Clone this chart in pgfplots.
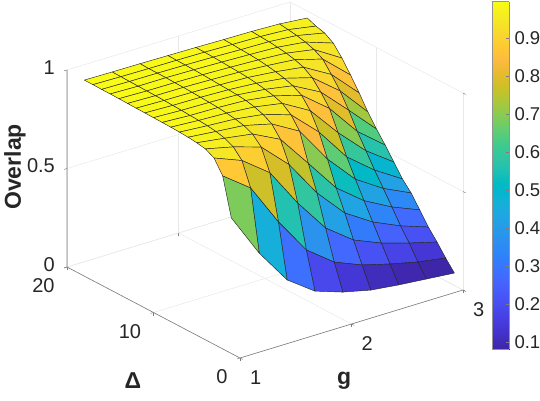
\documentclass[border=0pt]{standalone}
\usepackage{pgfplots}
\pgfplotsset{compat=1.18}
\usepackage{fontspec}
\setmainfont{Liberation Sans}
\definecolor{axgray}{gray}{0.15}
\pgfplotsset{colormap={parula}{
rgb=(0.2422,0.1504,0.6603) rgb=(0.2504,0.1650,0.7076) rgb=(0.2578,0.1818,0.7511) rgb=(0.2647,0.1978,0.7952)
rgb=(0.2706,0.2147,0.8364) rgb=(0.2751,0.2342,0.8710) rgb=(0.2783,0.2559,0.8991) rgb=(0.2803,0.2782,0.9221)
rgb=(0.2813,0.3006,0.9414) rgb=(0.2810,0.3228,0.9579) rgb=(0.2795,0.3447,0.9717) rgb=(0.2760,0.3667,0.9829)
rgb=(0.2699,0.3892,0.9906) rgb=(0.2602,0.4123,0.9952) rgb=(0.2440,0.4358,0.9988) rgb=(0.2206,0.4603,0.9973)
rgb=(0.1963,0.4847,0.9892) rgb=(0.1834,0.5074,0.9798) rgb=(0.1786,0.5289,0.9682) rgb=(0.1764,0.5499,0.9520)
rgb=(0.1687,0.5703,0.9359) rgb=(0.1540,0.5902,0.9218) rgb=(0.1460,0.6091,0.9079) rgb=(0.1380,0.6276,0.8973)
rgb=(0.1248,0.6459,0.8883) rgb=(0.1113,0.6635,0.8763) rgb=(0.0952,0.6798,0.8598) rgb=(0.0689,0.6948,0.8394)
rgb=(0.0297,0.7082,0.8163) rgb=(0.0036,0.7203,0.7917) rgb=(0.0067,0.7312,0.7660) rgb=(0.0433,0.7411,0.7394)
rgb=(0.0964,0.7500,0.7120) rgb=(0.1408,0.7584,0.6842) rgb=(0.1717,0.7670,0.6554) rgb=(0.1938,0.7758,0.6251)
rgb=(0.2161,0.7843,0.5923) rgb=(0.2470,0.7918,0.5567) rgb=(0.2906,0.7973,0.5188) rgb=(0.3406,0.8008,0.4789)
rgb=(0.3909,0.8029,0.4354) rgb=(0.4456,0.8024,0.3909) rgb=(0.5044,0.7993,0.3480) rgb=(0.5616,0.7942,0.3045)
rgb=(0.6174,0.7876,0.2612) rgb=(0.6720,0.7793,0.2227) rgb=(0.7242,0.7698,0.1910) rgb=(0.7738,0.7598,0.1646)
rgb=(0.8203,0.7498,0.1535) rgb=(0.8634,0.7406,0.1596) rgb=(0.9035,0.7330,0.1774) rgb=(0.9393,0.7288,0.2100)
rgb=(0.9728,0.7298,0.2394) rgb=(0.9956,0.7434,0.2371) rgb=(0.9970,0.7659,0.2199) rgb=(0.9952,0.7893,0.2028)
rgb=(0.9892,0.8136,0.1885) rgb=(0.9786,0.8386,0.1766) rgb=(0.9676,0.8639,0.1643) rgb=(0.9610,0.8890,0.1537)
rgb=(0.9597,0.9135,0.1423) rgb=(0.9628,0.9373,0.1265) rgb=(0.9691,0.9606,0.1064) rgb=(0.9769,0.9839,0.0805)
}}
\begin{document}
\begin{tikzpicture}[x=1pt,y=1pt]
\useasboundingbox (0,0) rectangle (540,400);
\begin{axis}[
    at={(240pt,42pt)}, anchor=origin,
    x={(111.5pt,34pt)}, y={(-8.65pt,4.55pt)}, z={(0pt,197pt)},
    xmin=1, xmax=3, ymin=0, ymax=20, zmin=0, zmax=1,
    clip=false,
    xtick={1,2,3}, ytick={0,10,20}, ztick={0,0.5,1},
    zticklabels={0,0.5,1},
    xtick pos=left, ytick pos=left, ztick pos=left,
    grid=major,
    grid style={line width=0.5pt, black!9},
    axis line style={draw=none},
    tick style={axgray!60, line width=0.5pt},
    major tick length=3pt,
    tick align=outside,
    colormap name=parula,
    point meta min=0.0816, point meta max=0.996,
    tick label style={font=\fontsize{20}{22}\selectfont, text=axgray},
    /pgf/number format/assume math mode=true,
    xticklabel style={anchor=center, xshift=13pt, yshift=-18pt},
    yticklabel style={anchor=east, xshift=-6pt, yshift=-18pt},
    zticklabel style={anchor=east, xshift=-6pt, yshift=1pt},
    xlabel={g}, ylabel={Δ},
    zlabel={Overlap},
    every axis x label/.style={at={(axis cs:1.375,-7.2,0)}, anchor=center, yshift=-3pt, font=\bfseries\fontsize{23}{25}\selectfont, text=axgray},
    every axis y label/.style={at={(axis cs:0.144,1.34,0)}, anchor=center, font=\bfseries\fontsize{23}{25}\selectfont, text=axgray},
    every axis z label/.style={at={(axis cs:0.534,20,0.578)}, anchor=center, rotate=90, xshift=2pt, font=\bfseries\fontsize{23}{25}\selectfont, text=axgray},
]
\draw[axgray!60, line width=0.6pt] (axis cs:3,0,0) -- (axis cs:1,0,0) -- (axis cs:1,20,0) -- (axis cs:1,20,1);
\addplot3[surf, shader=flat corner, draw=black!85, line width=0.45pt,
    mesh/rows=18, mesh/cols=9, z buffer=sort]
  table[row sep=\\] {
x y z\\
1 1 .688\\ 1.25 1 .466\\ 1.5 1 .287\\ 1.75 1 .187\\ 2 1 .139\\ 2.25 1 .106\\ 2.5 1 .089\\ 2.75 1 .076\\ 3 1 .063\\
1 2 .878\\ 1.25 2 .774\\ 1.5 2 .558\\ 1.75 2 .373\\ 2 2 .268\\ 2.25 2 .21\\ 2.5 2 .172\\ 2.75 2 .139\\ 3 2 .116\\
1 3 .946\\ 1.25 3 .89\\ 1.5 3 .785\\ 1.75 3 .588\\ 2 3 .418\\ 2.25 3 .314\\ 2.5 3 .255\\ 2.75 3 .212\\ 3 3 .174\\
1 4 .969\\ 1.25 4 .936\\ 1.5 4 .892\\ 1.75 4 .76\\ 2 4 .573\\ 2.25 4 .428\\ 2.5 4 .339\\ 2.75 4 .276\\ 3 4 .227\\
1 5 .977\\ 1.25 5 .957\\ 1.5 5 .935\\ 1.75 5 .865\\ 2 5 .70\\ 2.25 5 .532\\ 2.5 5 .424\\ 2.75 5 .349\\ 3 5 .291\\
1 6 .982\\ 1.25 6 .968\\ 1.5 6 .955\\ 1.75 6 .92\\ 2 6 .84\\ 2.25 6 .655\\ 2.5 6 .51\\ 2.75 6 .42\\ 3 6 .354\\
1 7 .985\\ 1.25 7 .974\\ 1.5 7 .965\\ 1.75 7 .945\\ 2 7 .90\\ 2.25 7 .77\\ 2.5 7 .60\\ 2.75 7 .49\\ 3 7 .402\\
1 8 .987\\ 1.25 8 .978\\ 1.5 8 .972\\ 1.75 8 .96\\ 2 8 .935\\ 2.25 8 .855\\ 2.5 8 .70\\ 2.75 8 .565\\ 3 8 .465\\
1 9 .988\\ 1.25 9 .98\\ 1.5 9 .977\\ 1.75 9 .97\\ 2 9 .95\\ 2.25 9 .91\\ 2.5 9 .80\\ 2.75 9 .64\\ 3 9 .528\\
1 10 .989\\ 1.25 10 .983\\ 1.5 10 .98\\ 1.75 10 .975\\ 2 10 .96\\ 2.25 10 .935\\ 2.5 10 .86\\ 2.75 10 .725\\ 3 10 .586\\
1 11 .99\\ 1.25 11 .985\\ 1.5 11 .983\\ 1.75 11 .978\\ 2 11 .968\\ 2.25 11 .95\\ 2.5 11 .91\\ 2.75 11 .80\\ 3 11 .65\\
1 12 .991\\ 1.25 12 .987\\ 1.5 12 .985\\ 1.75 12 .98\\ 2 12 .974\\ 2.25 12 .96\\ 2.5 12 .94\\ 2.75 12 .86\\ 3 12 .723\\
1 13 .992\\ 1.25 13 .988\\ 1.5 13 .987\\ 1.75 13 .983\\ 2 13 .978\\ 2.25 13 .968\\ 2.5 13 .955\\ 2.75 13 .915\\ 3 13 .791\\
1 14 .993\\ 1.25 14 .989\\ 1.5 14 .988\\ 1.75 14 .985\\ 2 14 .98\\ 2.25 14 .974\\ 2.5 14 .965\\ 2.75 14 .94\\ 3 14 .854\\
1 15 .994\\ 1.25 15 .99\\ 1.5 15 .99\\ 1.75 15 .987\\ 2 15 .983\\ 2.25 15 .978\\ 2.5 15 .972\\ 2.75 15 .955\\ 3 15 .907\\
1 16 .994\\ 1.25 16 .991\\ 1.5 16 .99\\ 1.75 16 .988\\ 2 16 .985\\ 2.25 16 .98\\ 2.5 16 .977\\ 2.75 16 .965\\ 3 16 .935\\
1 17 .995\\ 1.25 17 .992\\ 1.5 17 .99\\ 1.75 17 .989\\ 2 17 .987\\ 2.25 17 .983\\ 2.5 17 .98\\ 2.75 17 .972\\ 3 17 .947\\
1 18 .995\\ 1.25 18 .993\\ 1.5 18 .992\\ 1.75 18 .99\\ 2 18 .988\\ 2.25 18 .985\\ 2.5 18 .983\\ 2.75 18 .978\\ 3 18 .965\\
};
\end{axis}
\begin{axis}[
    at={(492pt,51pt)}, anchor=south west,
    width=17pt, height=347.5pt, scale only axis,
    xmin=0, xmax=1, ymin=0.0816, ymax=0.996,
    xtick=\empty, ytick={0.1,0.2,...,0.9},
    ytick pos=right, yticklabel pos=right,
    colormap name=parula,
    point meta min=0.0816, point meta max=0.996,
    axis line style={axgray!50, line width=0.5pt},
    tick style={axgray!60, line width=0.5pt},
    major tick length=3.5pt,
    axis on top,
    view={0}{90},
    tick label style={font=\fontsize{18.5}{20}\selectfont, text=axgray},
    /pgf/number format/assume math mode=true,
    /pgf/number format/fixed, /pgf/number format/precision=1,
    yticklabel style={xshift=2pt},
]
\addplot3[surf, shader=interp, point meta=y, mesh/rows=2, mesh/cols=2]
  table[row sep=\\] {
x y z\\
0 0.0816 0\\ 1 0.0816 0\\
0 0.996 0\\ 1 0.996 0\\
};
\end{axis}
\end{tikzpicture}
\end{document}
